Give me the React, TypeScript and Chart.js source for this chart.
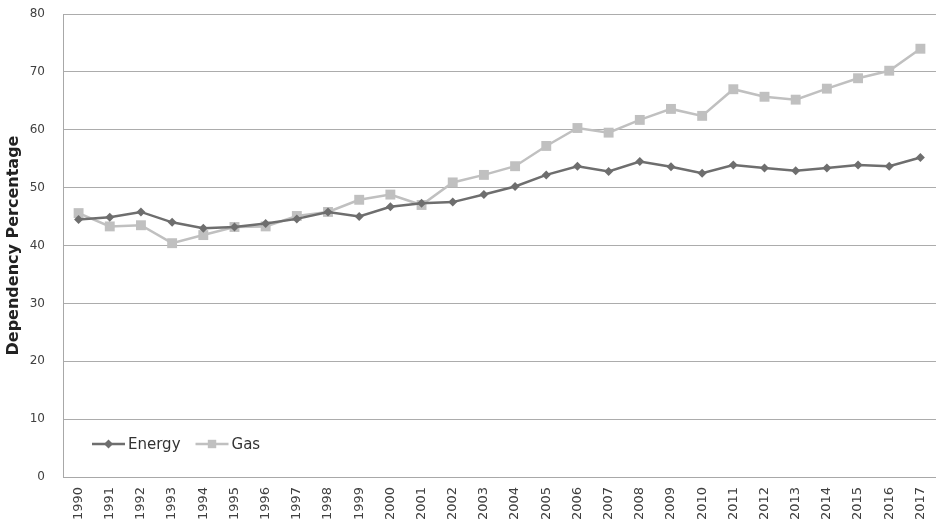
import React, { useEffect, useRef } from "react";
import { Chart, registerables } from "chart.js";

Chart.register(...registerables);

const years = [
  "1990", "1991", "1992", "1993", "1994", "1995", "1996", "1997", "1998", "1999",
  "2000", "2001", "2002", "2003", "2004", "2005", "2006", "2007", "2008", "2009",
  "2010", "2011", "2012", "2013", "2014", "2015", "2016", "2017",
];

const energy = [
  44.5, 44.9, 45.8, 44.0, 43.0, 43.2, 43.8, 44.6, 45.8, 45.0,
  46.7, 47.3, 47.5, 48.8, 50.2, 52.2, 53.7, 52.8, 54.5, 53.6,
  52.5, 53.9, 53.4, 52.9, 53.4, 53.9, 53.7, 55.2,
];

const gas = [
  45.6, 43.3, 43.5, 40.4, 41.8, 43.2, 43.3, 45.1, 45.8, 47.9,
  48.8, 47.0, 50.9, 52.2, 53.7, 57.2, 60.3, 59.5, 61.7, 63.6,
  62.4, 67.0, 65.7, 65.2, 67.1, 68.9, 70.2, 74.0,
];

const yTicks = [0, 10, 20, 30, 40, 50, 60, 70, 80];
const seriesNames = ["Energy", "Gas"];
const yTitle = "Dependency Percentage";

const insideLegend = {
  id: "insideLegend",
  afterDraw(chart: any) {
    const { ctx, chartArea } = chart;
    const y = chartArea.bottom - 33;
    let x = chartArea.left + 29;
    ctx.save();
    ctx.font = "15px 'DejaVu Sans', sans-serif";
    ctx.textBaseline = "middle";
    chart.data.datasets.forEach((ds: any) => {
      ctx.strokeStyle = ds.borderColor;
      ctx.lineWidth = ds.borderWidth;
      ctx.beginPath();
      ctx.moveTo(x, y);
      ctx.lineTo(x + 33, y);
      ctx.stroke();
      ctx.fillStyle = ds.pointBackgroundColor;
      ctx.beginPath();
      if (ds.pointStyle === "rectRot") {
        const r = ds.pointRadius;
        ctx.moveTo(x + 16.5, y - r);
        ctx.lineTo(x + 16.5 + r, y);
        ctx.lineTo(x + 16.5, y + r);
        ctx.lineTo(x + 16.5 - r, y);
        ctx.closePath();
      } else {
        const s = ds.pointRadius * Math.SQRT1_2 * 0.85;
        ctx.rect(x + 16.5 - s, y - s, 2 * s, 2 * s);
      }
      ctx.fill();
      ctx.fillStyle = "#333333";
      ctx.fillText(ds.label, x + 36, y + 1);
      const w = ctx.measureText(ds.label).width;
      x += 36 + w + 15;
    });
    ctx.restore();
  },
};

export default function App() {
  const ref = useRef<HTMLCanvasElement | null>(null);
  useEffect(() => {
    if (!ref.current) return;
    const chart = new Chart(ref.current, {
      type: "line",
      data: {
        labels: years,
        datasets: [
          {
            label: seriesNames[0],
            data: energy,
            borderColor: "#6e6e6e",
            backgroundColor: "#6e6e6e",
            pointBackgroundColor: "#6e6e6e",
            pointBorderColor: "#6e6e6e",
            borderWidth: 2.5,
            pointStyle: "rectRot",
            pointRadius: 4.5,
            pointBorderWidth: 0,
            tension: 0,
            clip: false,
          },
          {
            label: seriesNames[1],
            data: gas,
            borderColor: "#c0c0c0",
            backgroundColor: "#c0c0c0",
            pointBackgroundColor: "#c0c0c0",
            pointBorderColor: "#c0c0c0",
            borderWidth: 2.5,
            pointStyle: "rect",
            pointRadius: 7,
            pointBorderWidth: 0,
            tension: 0,
            clip: false,
          },
        ],
      },
      options: {
        animation: false,
        responsive: false,
        maintainAspectRatio: false,
        layout: { autoPadding: false, padding: { top: 14, right: 0, left: 0, bottom: 0 } },
        plugins: {
          legend: { display: false },
          tooltip: { enabled: false },
        },
        scales: {
          x: {
            type: "category",
            offset: true,
            afterFit: (axis: any) => {
              axis.height = 44;
            },
            grid: {
              display: true,
              color: "rgba(0,0,0,0)",
              drawTicks: true,
              tickLength: 10,
              tickColor: "rgba(0,0,0,0)",
            },
            border: { display: true, color: "#a8a8a8", width: 1 },
            ticks: {
              minRotation: 90,
              maxRotation: 90,
              autoSkip: false,
              padding: 0,
              color: "#404040",
              font: { family: "'DejaVu Sans', sans-serif", size: 13 },
            },
          },
          y: {
            min: 0,
            max: 80,
            afterBuildTicks: (axis: any) => {
              axis.ticks = yTicks.map((v) => ({ value: v }));
            },
            afterFit: (axis: any) => {
              axis.width = 63;
            },
            grid: {
              color: "#acacac",
              lineWidth: 1,
              drawTicks: true,
              tickLength: 18,
              tickColor: "rgba(0,0,0,0)",
            },
            border: { display: true, color: "#a8a8a8", width: 1 },
            ticks: {
              padding: 0,
              color: "#404040",
              font: { family: "'DejaVu Sans', sans-serif", size: 12 },
            },
            title: {
              display: true,
              text: yTitle,
              color: "#222222",
              font: { family: "'DejaVu Sans', sans-serif", size: 16, weight: "bold" },
              padding: { top: 4, bottom: 4 },
            },
          },
        },
      },
      plugins: [insideLegend],
    });
    return () => chart.destroy();
  }, []);
  return (
    <div style={{ position: "absolute", left: 0, top: 0, width: 936, height: 521, overflow: "hidden", background: "#fff" }}>
      <canvas ref={ref} width={936} height={521} style={{ width: 936, height: 521, display: "block" }} />
    </div>
  );
}
